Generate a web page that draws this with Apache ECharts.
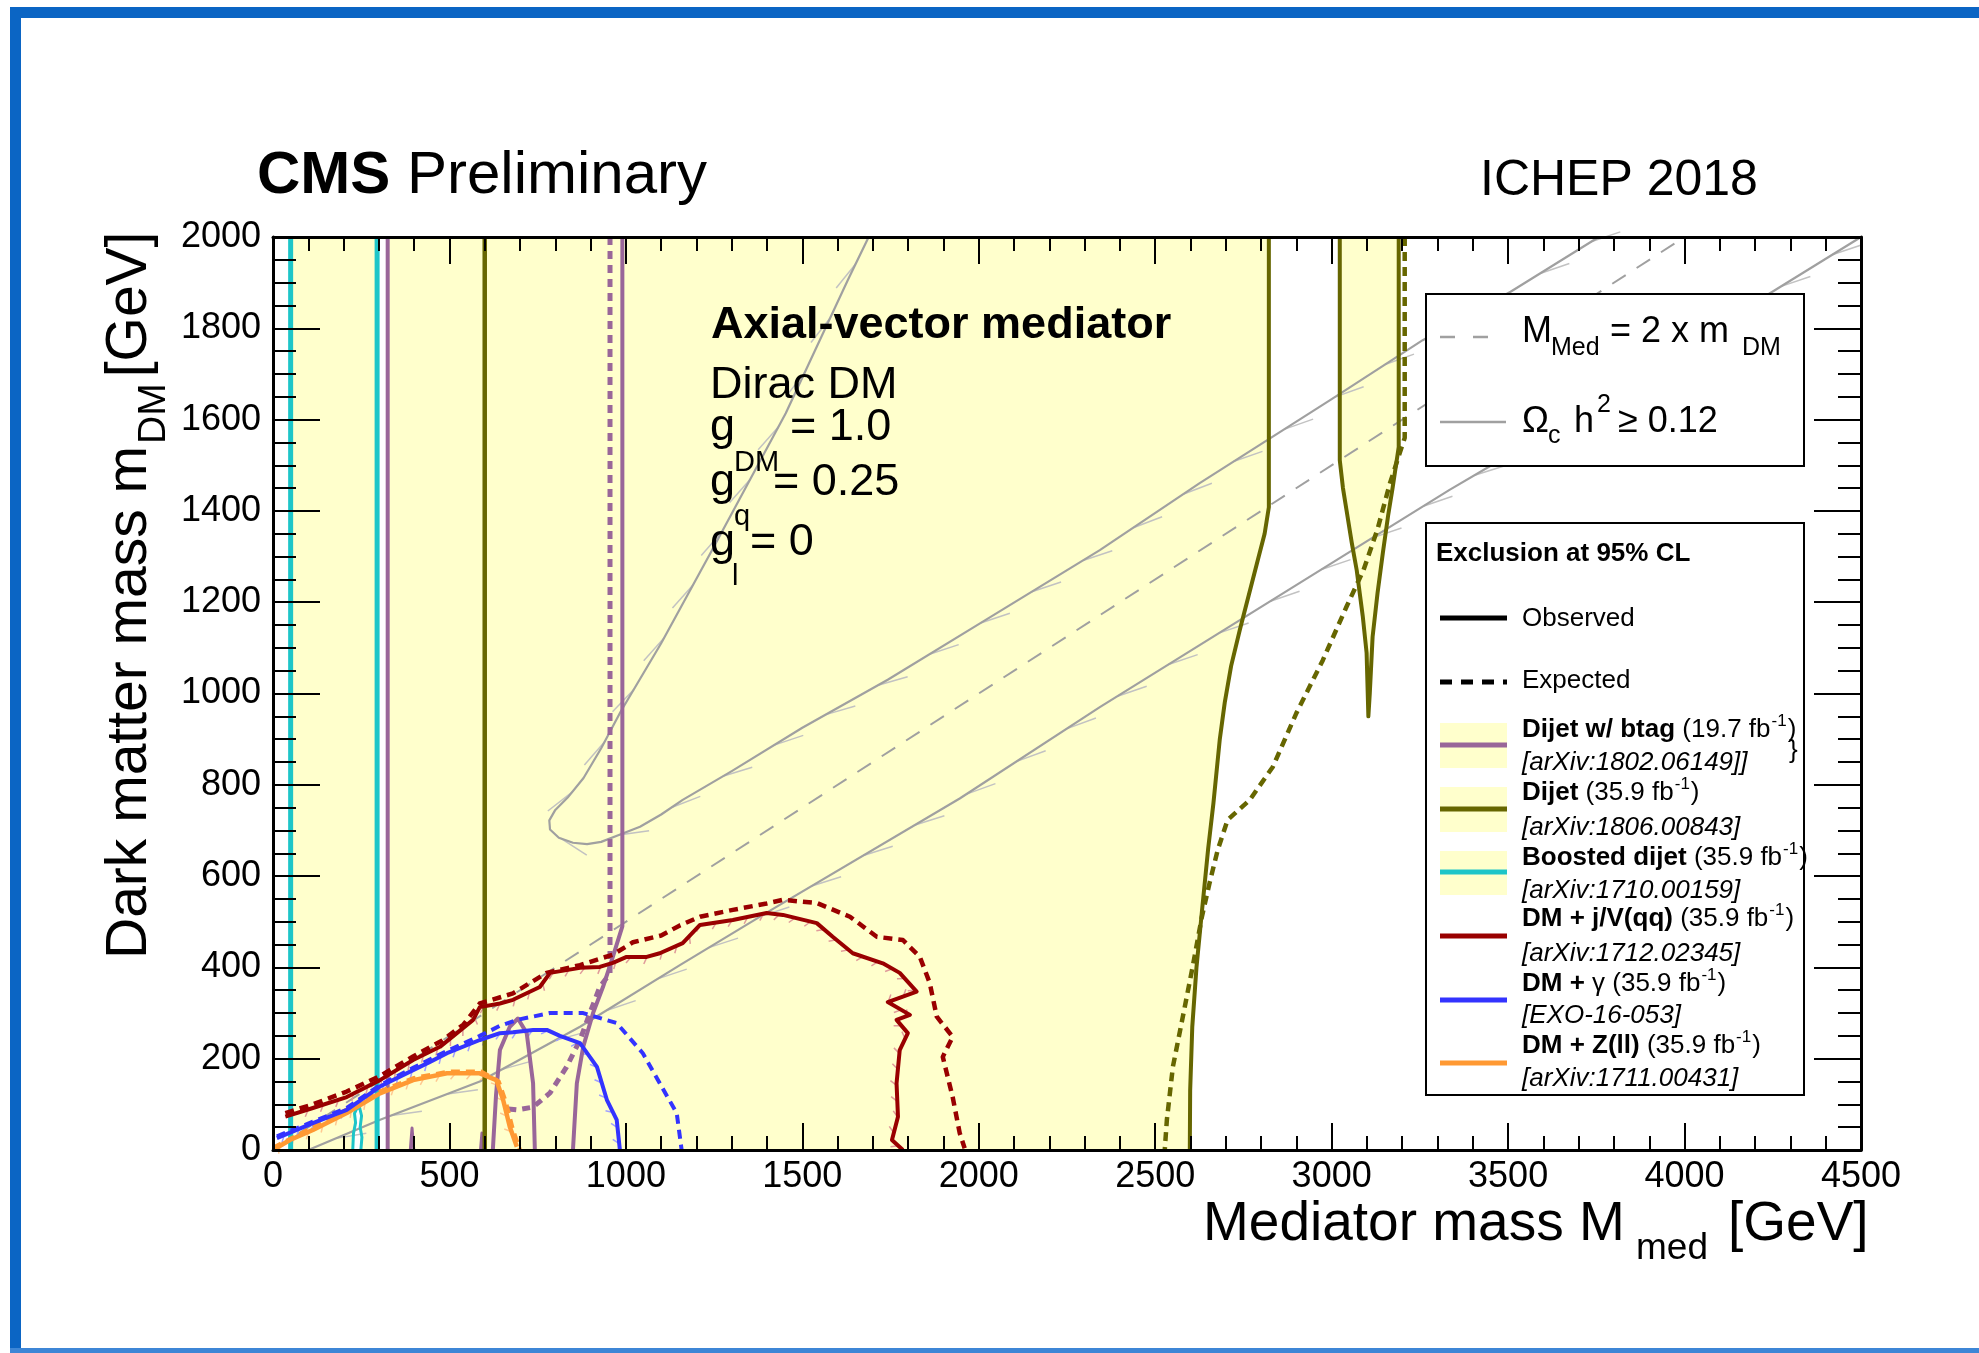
<!DOCTYPE html>
<html>
<head>
<meta charset="utf-8">
<title>CMS Preliminary - Axial-vector mediator</title>
<script src="https://cdn.jsdelivr.net/npm/echarts@6/dist/echarts.min.js"></script>
<style>
  html, body { margin: 0; padding: 0; background: #ffffff; }
  #chart { width: 1979px; height: 1353px; }
</style>
</head>
<body>
<div id="chart"></div>
<script>
// ---------------------------------------------------------------------------
// Axis ranges and tick spacing (GeV)
// ---------------------------------------------------------------------------
const xRange = [0, 4500];
const yRange = [0, 2000];
const xStep = 500;
const yStep = 200;

// ---------------------------------------------------------------------------
// Exclusion contours, points are [M_med, m_DM] in GeV
// ---------------------------------------------------------------------------
// Boosted dijet (35.9 fb-1)
const boostedObsLow = [[50, 0], [50, 2000]];
const boostedObsHigh = [[295, 2000], [295, 0]];
const boostedNotch = [[249, 0], [252, 28], [247, 50], [251, 75], [245, 94], [237, 90], [231, 80], [234, 60], [228, 36], [226, 0]];

// Dijet w/ btag (19.7 fb-1)
const btagObsLow = [[325, 0], [325, 2000]];
const btagObsHigh = [[990, 2000], [990, 490], [963, 423], [935, 357], [907, 300], [879, 226], [861, 146], [850, 0]];
const btagObsLobe = [[623, 0], [632, 120], [643, 219], [671, 270], [694, 288], [719, 256], [737, 146], [742, 0]];
const btagObsSpikeA = [[389, 0], [394, 48], [399, 0]];
const btagObsSpikeB = [[588, 0], [592, 37], [596, 0]];
const btagExp = [[955, 2000], [955, 387], [926, 357], [898, 300], [870, 241], [832, 182], [785, 125], [737, 94], [691, 88], [665, 90]];

// Dijet (35.9 fb-1)
const dijetObsLow = [[600, 0], [600, 2000]];
const dijetObsHigh = [[2822, 2000], [2822, 1408], [2810, 1350], [2790, 1290], [2765, 1215], [2740, 1140], [2715, 1060], [2697, 980], [2683, 900], [2665, 760], [2650, 660], [2632, 520], [2617, 401], [2605, 270], [2599, 130], [2598, 0]];
const dijetObsIsland = [[3023, 2000], [3023, 1511], [3032, 1450], [3042, 1402], [3057, 1330], [3071, 1270], [3088, 1170], [3099, 1089], [3104, 950], [3108, 1000], [3116, 1124], [3130, 1220], [3145, 1308], [3160, 1390], [3173, 1452], [3190, 1540], [3190, 2000]];
const dijetExp = [[3207, 2000], [3207, 1560], [3190, 1520], [3165, 1460], [3130, 1360], [3090, 1270], [3042, 1190], [2975, 1073], [2900, 957], [2833, 839], [2768, 767], [2705, 723], [2677, 657], [2654, 585], [2632, 510], [2606, 401], [2578, 291], [2550, 182], [2533, 66], [2527, 0]];

// DM + j/V(qq) (35.9 fb-1)
const monojetObs = [[35, 73], [113, 92], [209, 116], [303, 153], [397, 197], [473, 226], [521, 256], [567, 285], [586, 313], [643, 321], [680, 329], [756, 357], [785, 388], [870, 399], [926, 401], [963, 410], [1002, 423], [1059, 423], [1096, 431], [1161, 453], [1210, 493], [1303, 504], [1399, 519], [1445, 515], [1541, 497], [1586, 467], [1643, 431], [1728, 409], [1776, 388], [1824, 347], [1742, 324], [1805, 296], [1767, 285], [1799, 256], [1776, 219], [1767, 146], [1771, 73], [1754, 22], [1785, 0]];
const monojetExp = [[35, 81], [113, 100], [209, 128], [303, 162], [397, 205], [480, 240], [540, 275], [586, 321], [680, 343], [775, 388], [870, 405], [963, 428], [1020, 455], [1100, 470], [1153, 492], [1210, 511], [1303, 526], [1399, 540], [1445, 548], [1541, 541], [1635, 511], [1711, 467], [1785, 460], [1833, 423], [1861, 366], [1881, 292], [1926, 248], [1898, 204], [1926, 116], [1946, 37], [1960, 4]];

// DM + gamma (35.9 fb-1)
const monophotonObs = [[11, 26], [113, 59], [209, 88], [303, 139], [397, 175], [445, 193], [493, 212], [586, 241], [643, 256], [680, 258], [737, 263], [776, 263], [813, 250], [870, 234], [918, 182], [946, 110], [974, 66], [983, 0]];
const monophotonExp = [[11, 30], [113, 62], [209, 92], [303, 142], [397, 180], [493, 217], [586, 250], [643, 272], [691, 285], [785, 300], [879, 300], [974, 278], [1048, 212], [1096, 146], [1144, 81], [1158, 0]];

// DM + Z(ll) (35.9 fb-1)
const monozObs = [[0, 0], [48, 22], [113, 44], [209, 81], [303, 124], [397, 153], [493, 168], [586, 168], [633, 153], [652, 110], [671, 51], [691, 7]];
const monozExp = [[0, 5], [100, 45], [200, 85], [300, 128], [400, 158], [500, 172], [590, 172], [640, 150], [660, 105], [680, 45], [700, 0]];

// Relic density contours and the M_med = 2 m_DM diagonal
const relicUpper = [[1688, 2000], [1629, 1906], [1453, 1614], [1249, 1321], [1100, 1110], [985, 960], [930, 880], [880, 815], [835, 772], [800, 745], [783, 722], [785, 702], [810, 684], [850, 673], [890, 670], [930, 675], [980, 690], [1040, 708], [1100, 735], [1161, 767], [1300, 830], [1500, 925], [1742, 1030], [2000, 1152], [2343, 1314], [2626, 1461], [3000, 1645], [3258, 1774], [3507, 1880], [3757, 2000]];
const relicLower = [[100, 0], [300, 65], [586, 150], [870, 270], [1153, 405], [1399, 520], [1946, 770], [2343, 970], [3334, 1446], [3453, 1500], [4500, 2000]];
const resonanceDiagonal = [[0, 0], [4000, 2000]];

// ---------------------------------------------------------------------------
// Styling
// ---------------------------------------------------------------------------
const FONT = '"Liberation Sans", Arial, Helvetica, sans-serif';
const C = {
  fill: '#ffffcc', cyan: '#1ec5c8', purple: '#996699', olive: '#666600',
  red: '#990000', blue: '#3333ff', orange: '#ff9933', gray: '#a0a0a0', frame: '#0b65c4'
};

const mctx = document.createElement('canvas').getContext('2d');
function textWidth(t, fs, weight, style) {
  mctx.font = (style || 'normal') + ' ' + (weight || 'normal') + ' ' + fs + 'px ' + FONT;
  return mctx.measureText(t).width;
}
// text element placed by its alphabetic baseline
function txt(x, base, t, fs, o) {
  o = o || {};
  return {
    type: 'text', silent: true, z: o.z || 60,
    style: {
      text: t, x: x, y: base - 0.35 * fs, fill: o.color || '#000',
      font: (o.style || 'normal') + ' ' + (o.weight || 'normal') + ' ' + fs + 'px ' + FONT,
      textAlign: o.align || 'left', textVerticalAlign: 'middle',
      align: o.align || 'left', verticalAlign: 'middle'
    }
  };
}
// run of text pieces laid out left to right (sub/superscripts via dy)
function run(x, base, parts, z) {
  const out = [];
  let cx = x;
  parts.forEach(function (p) {
    if (p.gap) cx += p.gap;
    out.push(txt(cx, base + (p.dy || 0), p.t, p.fs, { weight: p.weight, style: p.style, z: z }));
    cx += textWidth(p.t, p.fs, p.weight, p.style);
  });
  return out;
}

// ---------------------------------------------------------------------------
// Series builders
// ---------------------------------------------------------------------------
function fillSeries(poly, color, z) {
  return {
    type: 'custom', coordinateSystem: 'cartesian2d', silent: true, z: z,
    data: poly,
    renderItem: function (params, api) {
      if (params.dataIndex !== 0) return null;
      return { type: 'polygon', shape: { points: poly.map(function (p) { return api.coord(p); }) }, style: { fill: color } };
    }
  };
}
function lineSeries(pts, color, width, dash, z) {
  return {
    type: 'line', data: pts, symbol: 'none', showSymbol: false, silent: true, z: z,
    lineStyle: { color: color, width: width, type: dash || 'solid', cap: 'butt', join: 'round' }
  };
}
// short hatch strokes along a contour (drawn on the right-hand side of the path)
function hatchSeries(pts, cfg) {
  return {
    type: 'custom', coordinateSystem: 'cartesian2d', silent: true, z: cfg.z,
    data: pts,
    renderItem: function (params, api) {
      if (params.dataIndex !== 0) return null;
      const px = pts.map(function (p) { return api.coord(p); });
      const children = [];
      let carry = cfg.spacing / 2;
      for (let i = 0; i < px.length - 1; i++) {
        const dx = px[i + 1][0] - px[i][0], dy = px[i + 1][1] - px[i][1];
        const len = Math.hypot(dx, dy);
        if (len === 0) continue;
        const tx = dx / len, ty = dy / len, nx = -ty, ny = tx;
        let s = carry;
        while (s < len) {
          const bx = px[i][0] + tx * s, by = px[i][1] + ty * s;
          children.push({
            type: 'line',
            shape: { x1: bx, y1: by, x2: bx + cfg.along * tx + cfg.across * nx, y2: by + cfg.along * ty + cfg.across * ny },
            style: { stroke: cfg.color, lineWidth: cfg.width }
          });
          s += cfg.spacing;
        }
        carry = s - len;
      }
      return { type: 'group', children: children };
    }
  };
}

const DASH = [9, 6];
const series = [
  // excluded regions
  fillSeries(boostedObsLow.concat(boostedObsHigh, boostedNotch), C.fill, 1),
  fillSeries(btagObsLow.concat(btagObsHigh), C.fill, 1),
  fillSeries(dijetObsLow.concat(dijetObsHigh), C.fill, 1),
  fillSeries(dijetObsIsland, C.fill, 1),

  // relic density and diagonal
  lineSeries(resonanceDiagonal, C.gray, 2, [16, 13], 2),
  hatchSeries(relicUpper, { along: 30, across: 7, spacing: 60, color: '#c2c2c2', width: 1.5, z: 2 }),
  hatchSeries(relicLower, { along: 30, across: 7, spacing: 60, color: '#c2c2c2', width: 1.5, z: 2 }),
  lineSeries(relicUpper, C.gray, 2.2, null, 2),
  lineSeries(relicLower, C.gray, 2.2, null, 2),

  // boosted dijet
  lineSeries(boostedObsLow, C.cyan, 5, null, 4),
  lineSeries(boostedObsHigh, C.cyan, 5, null, 4),
  lineSeries(boostedNotch, C.cyan, 3, null, 4),

  // dijet w/ btag
  lineSeries(btagObsLow, C.purple, 4, null, 4),
  lineSeries(btagObsHigh, C.purple, 4, null, 4),
  lineSeries(btagObsLobe, C.purple, 4, null, 4),
  lineSeries(btagObsSpikeA, C.purple, 3, null, 4),
  lineSeries(btagObsSpikeB, C.purple, 3, null, 4),
  lineSeries(btagExp, C.purple, 5, [8, 6], 4),

  // dijet
  lineSeries(dijetObsLow, C.olive, 4.5, null, 4),
  lineSeries(dijetObsHigh, C.olive, 4, null, 4),
  lineSeries(dijetObsIsland, C.olive, 4, null, 4),
  lineSeries(dijetExp, C.olive, 4.5, DASH, 4),

  // DM + Z(ll)
  hatchSeries(monozObs, { along: -5, across: 6, spacing: 16, color: '#ffc890', width: 1.5, z: 3 }),
  lineSeries(monozExp, C.orange, 4, DASH, 4),
  lineSeries(monozObs, C.orange, 4.5, null, 4),

  // DM + gamma
  hatchSeries(monophotonObs, { along: -5, across: 6, spacing: 16, color: '#a0a0ff', width: 1.5, z: 3 }),
  lineSeries(monophotonExp, C.blue, 4, DASH, 4),
  lineSeries(monophotonObs, C.blue, 4, null, 4),

  // DM + j/V(qq)
  hatchSeries(monojetObs, { along: -5, across: 6, spacing: 16, color: '#e09a9a', width: 1.5, z: 3 }),
  lineSeries(monojetExp, C.red, 4.5, DASH, 4),
  lineSeries(monojetObs, C.red, 4, null, 4)
];

// ---------------------------------------------------------------------------
// Axes: ROOT-style frame with inward ticks on all four sides
// ---------------------------------------------------------------------------
function makeAxis(pos, range, step, major, minor, split, labels) {
  const isX = pos === 'bottom' || pos === 'top';
  return {
    type: 'value', position: pos, min: range[0], max: range[1], interval: step, z: 10,
    axisLine: { show: true, onZero: false, lineStyle: { color: '#000', width: 3 } },
    axisTick: { show: true, inside: true, length: major, lineStyle: { color: '#000', width: 2 } },
    minorTick: { show: true, splitNumber: split, length: minor, lineStyle: { color: '#000', width: 2 } },
    splitLine: { show: false }, minorSplitLine: { show: false },
    axisLabel: {
      show: labels, margin: isX ? 9 : 12, fontSize: 36, fontFamily: FONT, color: '#000',
      showMinLabel: true, showMaxLabel: true,
      formatter: function (v) { return String(v); }
    }
  };
}

// ---------------------------------------------------------------------------
// Text, legend boxes and page frame
// ---------------------------------------------------------------------------
const graphics = [];
// page frame
graphics.push({ type: 'rect', silent: true, z: 0, shape: { x: 10, y: 7, width: 1969, height: 11, r: [6, 0, 0, 0] }, style: { fill: C.frame } });
graphics.push({ type: 'rect', silent: true, z: 0, shape: { x: 10, y: 7, width: 11, height: 1346 }, style: { fill: C.frame } });
graphics.push({ type: 'rect', silent: true, z: 0, shape: { x: 10, y: 1348, width: 1969, height: 5 }, style: { fill: '#3d86d6' } });

// headline
graphics.push.apply(graphics, run(257, 197, [
  { t: 'CMS', fs: 60, weight: 'bold' }, { t: ' Preliminary', fs: 60 }
]));
graphics.push(txt(1480, 199, 'ICHEP 2018', 50));

// model description
graphics.push(txt(711, 341, 'Axial-vector mediator', 45, { weight: 'bold' }));
graphics.push(txt(710, 401, 'Dirac DM', 45));
graphics.push(txt(710, 443, 'g', 45));
graphics.push(txt(734, 473, 'DM', 29));
graphics.push(txt(790, 443, '= 1.0', 45));
graphics.push(txt(710, 498, 'g', 45));
graphics.push(txt(734, 527, 'q', 29));
graphics.push(txt(773, 498, '= 0.25', 45));
graphics.push(txt(710, 558, 'g', 45));
graphics.push(txt(732, 587, 'l', 29));
graphics.push(txt(750, 558, '= 0', 45));

// axis titles
graphics.push(txt(1203, 1244, 'Mediator mass M', 55));
graphics.push(txt(1636, 1262, 'med', 37));
graphics.push(txt(1728, 1244, '[GeV]', 55));
graphics.push({
  type: 'group', x: 150, y: 959, rotation: Math.PI / 2, silent: true,
  children: run(0, 0, [
    { t: 'Dark matter mass m', fs: 57 },
    { t: 'DM', fs: 39, dy: 18, gap: 2 },
    { t: '[GeV]', fs: 57, gap: 6 }
  ])
});

// legend: relic density
graphics.push({ type: 'rect', silent: true, z: 100, shape: { x: 1426, y: 294, width: 378, height: 172 }, style: { fill: '#fff', stroke: '#000', lineWidth: 2 } });
graphics.push({ type: 'line', silent: true, z: 101, shape: { x1: 1440, y1: 337, x2: 1492, y2: 337 }, style: { stroke: C.gray, lineWidth: 2.5, lineDash: [15, 18] } });
graphics.push(txt(1522, 345, 'M', 36, { z: 101 }));
graphics.push(txt(1551, 357, 'Med', 25, { z: 101 }));
graphics.push(txt(1610, 345, '= 2 x m', 36, { z: 101 }));
graphics.push(txt(1742, 357, 'DM', 25, { z: 101 }));
graphics.push({ type: 'line', silent: true, z: 101, shape: { x1: 1440, y1: 422, x2: 1506, y2: 422 }, style: { stroke: C.gray, lineWidth: 2.5 } });
graphics.push(txt(1522, 435, '\u03A9', 36, { z: 101 }));
graphics.push(txt(1548, 445, 'c', 25, { z: 101 }));
graphics.push(txt(1574, 435, 'h', 36, { z: 101 }));
graphics.push(txt(1597, 414, '2', 25, { z: 101 }));
graphics.push(txt(1618, 435, '\u2265 0.12', 36, { z: 101 }));

// legend: exclusions
graphics.push({ type: 'rect', silent: true, z: 100, shape: { x: 1426, y: 523, width: 378, height: 572 }, style: { fill: '#fff', stroke: '#000', lineWidth: 2 } });
graphics.push(txt(1436, 563, 'Exclusion at 95% CL', 26, { weight: 'bold', z: 101 }));
graphics.push({ type: 'line', silent: true, z: 101, shape: { x1: 1440, y1: 618, x2: 1507, y2: 618 }, style: { stroke: '#000', lineWidth: 5 } });
graphics.push(txt(1522, 628, 'Observed', 26, { z: 101 }));
graphics.push({ type: 'line', silent: true, z: 101, shape: { x1: 1440, y1: 682, x2: 1507, y2: 682 }, style: { stroke: '#000', lineWidth: 5, lineDash: [12, 9] } });
graphics.push(txt(1522, 690, 'Expected', 26, { z: 101 }));

const legendRows = [
  { name: 'Dijet w/ btag', lumi: ' (19.7 fb', ref: '[arXiv:1802.06149]]', color: C.purple, box: [723, 768], lineY: 745, base: 739, refBase: 772 },
  { name: 'Dijet', lumi: ' (35.9 fb', ref: '[arXiv:1806.00843]', color: C.olive, box: [787, 832], lineY: 809, base: 802, refBase: 837 },
  { name: 'Boosted dijet', lumi: ' (35.9 fb', ref: '[arXiv:1710.00159]', color: C.cyan, box: [851, 895], lineY: 872, base: 867, refBase: 900 },
  { name: 'DM + j/V(qq)', lumi: ' (35.9 fb', ref: '[arXiv:1712.02345]', color: C.red, lineY: 936, base: 928, refBase: 963 },
  { name: 'DM + ', greek: '\u03B3', lumi: ' (35.9 fb', ref: '[EXO-16-053]', color: C.blue, lineY: 1000, base: 993, refBase: 1025 },
  { name: 'DM + Z(ll)', lumi: ' (35.9 fb', ref: '[arXiv:1711.00431]', color: C.orange, lineY: 1063, base: 1055, refBase: 1088 }
];
legendRows.forEach(function (r) {
  if (r.box) {
    graphics.push({ type: 'rect', silent: true, z: 101, shape: { x: 1440, y: r.box[0], width: 67, height: r.box[1] - r.box[0] }, style: { fill: C.fill } });
  }
  graphics.push({ type: 'line', silent: true, z: 102, shape: { x1: 1440, y1: r.lineY, x2: 1507, y2: r.lineY }, style: { stroke: r.color, lineWidth: 5 } });
  const parts = [{ t: r.name, fs: 26, weight: 'bold' }];
  if (r.greek) parts.push({ t: r.greek, fs: 26 });
  parts.push({ t: r.lumi, fs: 26 }, { t: '-1', fs: 17, dy: -12, gap: 1 }, { t: ')', fs: 26, gap: 1 });
  graphics.push.apply(graphics, run(1522, r.base, parts, 102));
  graphics.push(txt(1522, r.refBase, r.ref, 26, { style: 'italic', z: 102 }));
});
graphics.push(txt(1789, 760, '}', 26, { z: 102 }));

// ---------------------------------------------------------------------------
const chart = echarts.init(document.getElementById('chart'), null, { renderer: 'canvas' });
chart.setOption({
  animation: false,
  backgroundColor: '#ffffff',
  grid: { left: 273, top: 237, width: 1588, height: 913, containLabel: false, outerBoundsMode: 'none' },
  xAxis: [
    makeAxis('bottom', xRange, xStep, 27, 14, 5, true),
    makeAxis('top', xRange, xStep, 27, 14, 5, false)
  ],
  yAxis: [
    makeAxis('left', yRange, yStep, 47, 23, 4, true),
    makeAxis('right', yRange, yStep, 47, 23, 4, false)
  ],
  series: series,
  graphic: { elements: graphics }
});
</script>
</body>
</html>
